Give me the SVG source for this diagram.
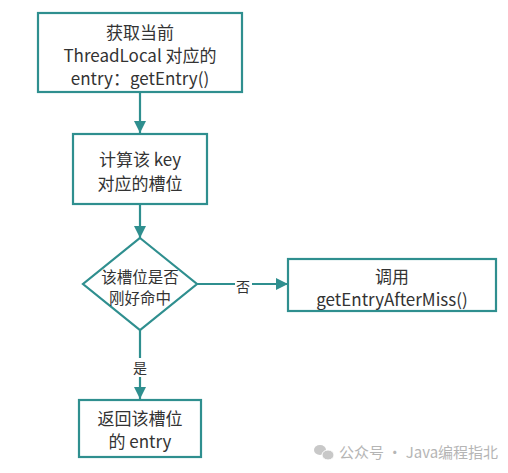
<svg xmlns="http://www.w3.org/2000/svg" width="508" height="473" viewBox="0 0 508 473">
<style>
.n{fill:#fff;stroke:#2f8f8f;stroke-width:2.2}
.t{font-family:"Microsoft YaHei","Noto Sans CJK SC",sans-serif;font-size:17px;fill:#333;text-anchor:middle;dominant-baseline:central}
.s{font-size:15.5px}
.c{stroke:#2f8f8f;stroke-width:2.2;fill:none}
.l{font-family:"Noto Sans CJK SC",sans-serif;font-size:14px;fill:#333;text-anchor:middle;dominant-baseline:central}
.w{font-family:"Noto Sans CJK SC",sans-serif;font-size:15px;fill:#b5b5b5}
</style>
<defs>
<marker id="a" viewBox="0 0 10 10" refX="10" refY="5" markerWidth="5.5" markerHeight="5.5" orient="auto" markerUnits="strokeWidth">
<path d="M0,0 L10,5 L0,10 z" fill="#2f8f8f"/>
</marker>
</defs>
<rect width="508" height="473" fill="#fff"/>
<g id="edges">
<line class="c" x1="140" y1="92" x2="140" y2="133" marker-end="url(#a)"/>
<line class="c" x1="140" y1="204" x2="140" y2="238" marker-end="url(#a)"/>
<line class="c" x1="197" y1="284" x2="288" y2="284" marker-end="url(#a)"/>
<rect x="235" y="276" width="17" height="18" fill="#fff"/>
<text class="l" x="243" y="286">否</text>
<line class="c" x1="140" y1="330" x2="140" y2="399" marker-end="url(#a)"/>
<rect x="131" y="358" width="18" height="19" fill="#fff"/>
<text class="l" x="140" y="367">是</text>
</g>
<g id="n1">
<rect class="n" x="38" y="13" width="204" height="79"/>
<text class="t" x="140" y="31">获取当前</text>
<text class="t" x="140" y="54">ThreadLocal 对应的</text>
<text class="t" x="140" y="77">entry：getEntry()</text>
</g>
<g id="n2">
<rect class="n" x="73" y="134" width="134" height="70"/>
<text class="t" x="140" y="158">计算该 key</text>
<text class="t" x="140" y="182">对应的槽位</text>
</g>
<g id="n3">
<polygon class="n" points="140,238 197,284 140,330 83,284"/>
<text class="t s" x="140" y="276">该槽位是否</text>
<text class="t s" x="140" y="297">刚好命中</text>
</g>
<g id="n4">
<rect class="n" x="288" y="259" width="208" height="52"/>
<text class="t" x="392" y="275">调用</text>
<text class="t" x="392" y="298">getEntryAfterMiss()</text>
</g>
<g id="n5">
<rect class="n" x="79" y="400" width="122" height="57"/>
<text class="t" x="140" y="417">返回该槽位</text>
<text class="t" x="140" y="440">的 entry</text>
</g>
<g id="watermark">
<ellipse cx="320" cy="450" rx="6" ry="5" fill="#c8c8c8"/>
<ellipse cx="328" cy="455" rx="6" ry="5" fill="#c8c8c8" stroke="#fff" stroke-width="1"/>
<text class="w" x="339" y="458">公众号 · Java编程指北</text>
</g>
</svg>
